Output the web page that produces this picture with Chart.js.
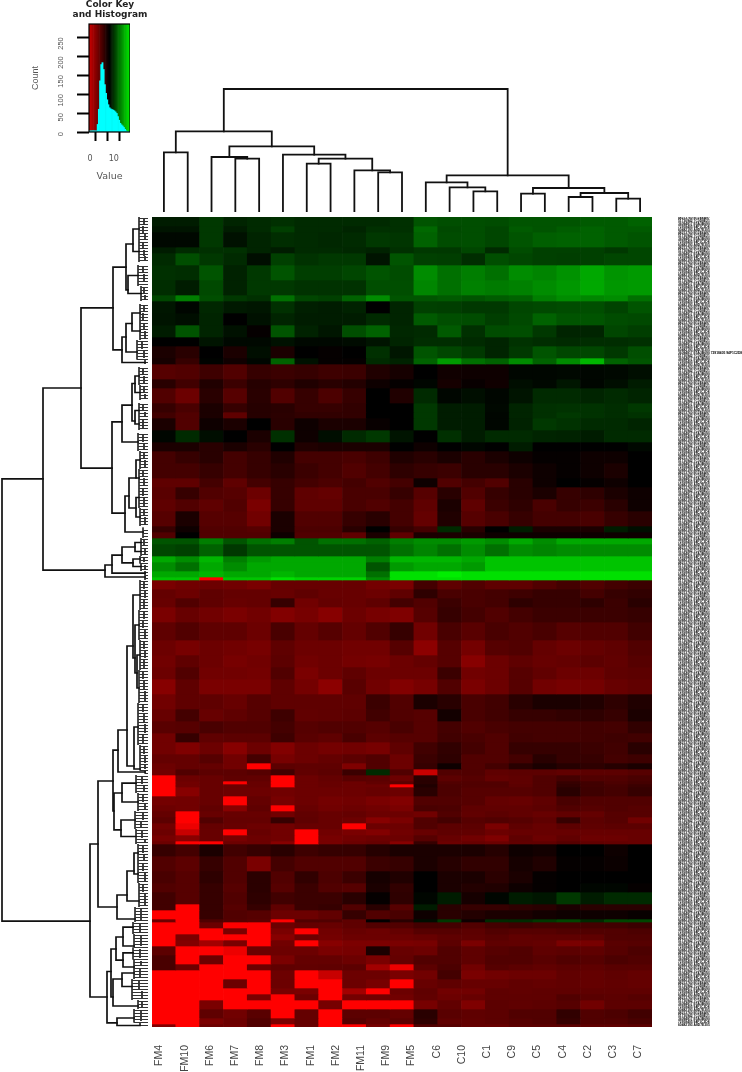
<!DOCTYPE html>
<html>
<head>
<meta charset="utf-8">
<title>Heatmap</title>
<script src="https://cdn.jsdelivr.net/npm/chart.js@4/dist/chart.umd.min.js"></script>
<style>
html, body { margin: 0; padding: 0; background: #fff; overflow: hidden; }
canvas { position: absolute; }
#heat { filter: blur(0.7px); }
#topTree, #leftTree { filter: blur(0.3px); }
#key, #keyTitle { filter: blur(0.3px); }
#colLabels { filter: blur(0.25px); }
#rowLabels { filter: blur(0.2px); }
</style>
</head>
<body>
<canvas id="keyTitle" width="100" height="24" style="left:60px;top:0"></canvas>
<canvas id="key" width="110" height="190" style="left:20px;top:0"></canvas>
<canvas id="topTree" width="500" height="132" style="left:152px;top:80px"></canvas>
<canvas id="leftTree" width="148" height="810" style="left:0;top:217px"></canvas>
<canvas id="heat" width="500" height="810" style="left:152px;top:217px"></canvas>
<canvas id="rowLabels" width="90" height="810" style="left:652px;top:217px"></canvas>
<canvas id="colLabels" width="504" height="52" style="left:147px;top:1020px"></canvas>
<script>
const columnLabels = ["FM4","FM10","FM6","FM7","FM8","FM3","FM1","FM2","FM11","FM9","FM5","C6","C10","C1","C9","C5","C4","C2","C3","C7"];
const heatColumns = ["1","2","3","4","5","6","7","8","9","10","11","12","13","14","15","16","17","18","19","20","21"];

// colour key histogram, bins are 0.5 wide
const keyBins = [-0.25,0.25,0.75,1.25,1.75,2.25,2.75,3.25,3.75,4.25,4.75,5.25,5.75,6.25,6.75,7.25,7.75,8.25,8.75,9.25,9.75,10.25,10.75,11.25,11.75,12.25,12.75,13.25,13.75,14.25,14.75,15.25,15.75,16.25,16.75];
const keyCounts = [3,3,3,3,3,3,3,20,60,135,178,183,165,125,102,85,72,64,61,59,58,56,53,49,41,31,23,19,16,12,7,3,1,0,0];

// how many gene rows each band of the heatmap covers
const rowCounts = [3,2,5,2,4,5,5,2,4,4,4,3,4,2,5,3,5,3,2,4,4,3,4,5,3,4,4,5,2,2,2,4,2,3,2,1,3,3,3,5,6,5,4,4,5,5,4,4,3,4,3,2,2,2,1,1,3,3,2,2,2,2,2,2,1,4,5,4,3,4,2,3,1,2,2,2,2,3,3,2,3,3,2,2,3,3,2,1];

const heatRows = [
[9,9,10,9.3,9.5,9.7,9.5,9.5,9.5,9.5,9.7,11,10.8,10.8,10.7,11,11,11,11.2,11.2,11.5],
[8.7,8.7,10,9,9.5,10.2,9.5,9.5,9.3,9.7,9.7,11.7,10.6,10.8,10.5,11.2,11,11.3,11.5,11.2,11.2],
[8.3,8.3,10,8.6,9.3,9.6,9.5,9.4,9.5,10,9.9,11.5,10.7,10.8,10.5,11,11.4,11.5,11.5,11.2,11],
[9,9.5,9.7,9.7,9.3,9,9.5,9.5,9.4,9.2,9.7,10,10,10.5,9.5,10.7,10.3,10.3,10.3,10,10.5],
[9.5,10.8,10,9.5,8.5,10.3,9.8,10,10,8.7,11,10.3,10.2,9.6,10.8,10.5,10.3,10.2,10.3,10.5,10.5],
[9.7,9.6,11,9.2,10,11,10.2,10.2,10.5,11,10.7,13,12,12.5,12,13,12.7,13.2,14,13.3,13.5],
[9.6,9,10.6,9.2,10,10,9.8,9.8,9.8,10.8,10.8,12.8,12,12.6,12.4,12.6,13,13.4,14,13.4,13.5],
[10.5,12.5,10.8,10,9.7,12,10.5,10.3,11.5,13,11,11,11.2,11,11.3,11.5,12.5,13,12.8,13,12],
[8.8,8.2,9.4,8.9,8.8,9.7,9.1,9,9.2,8,9.3,10.3,10.2,10,10,10.5,10.6,10.7,10.8,10.4,11],
[8.7,8.5,9.3,8,8.6,9.3,9,9,9,9.5,9.3,11.2,10.8,10.7,10.2,10.6,11.5,11,11,10.7,10.6],
[9,11,9.3,8.6,7.8,11,9.2,8.8,10.8,11.5,9.4,9.5,11.2,9.7,10.7,10.8,10,9.3,9.3,10.5,10.2],
[8,8,8.7,8.3,8.3,8.6,8.3,8.3,8.4,8.7,9.3,9.6,9.6,9.5,9.3,9.8,9.6,9.5,9.6,9.6,9.7],
[7,6.5,8,7,8.5,7,8,7.8,8,9.7,8.8,11,10.5,10,9.3,10,11,10.5,10.5,10,10.8],
[7.2,6,8.1,7.4,8.2,11.5,8.6,7.8,7.8,9.5,9.2,11.5,13.5,12,11.5,13,11.5,13,14.5,11.5,11],
[4.8,5,5.7,5,6,5.8,6,5.7,5.8,6.8,7.2,8,7.4,7.5,7.5,8.2,8.2,8.3,8.2,8.3,8.5],
[6.5,5.6,6.8,5.8,6.6,6.3,6.8,6.5,6.7,7.5,7.8,8.2,7.2,7.7,7.4,8.5,8.3,8.8,8.2,8.5,9],
[5,4,6.5,4.8,6.5,5,6,5.2,6,8,6.8,9.5,8.2,8.5,8.2,8.7,9.5,9.5,9.3,9.5,9.3],
[6,5.3,7,6,6.6,6.5,6,6,6.2,8,8,10,9,9,8.3,9.3,9.7,9.8,9.8,9.6,10],
[5.6,5,7,4.5,6.6,6.4,6.2,6.2,6.2,8,8,10,9,9,8.2,9.3,9.7,10,9.8,9.6,9.8],
[7,5,7.5,7,8,6.5,7.5,7,7,7.7,8,10,9,9,8.2,9.2,10,9.8,9.5,9.5,9.3],
[8.2,9.5,8.5,8,7,9.7,7.5,8.5,9.5,10,8.7,8,9.7,9,9.5,9.5,9.3,9.2,9,9.5,9.5],
[7,7,6.5,7,6.5,8,6.8,7,7,7,8,7.5,8,8.2,8,9,8,8,8,8,8.3],
[5.5,6,6.5,5.5,6,6.8,5.5,5.5,5.3,5.7,6.8,6.5,7,6.5,7,7.5,7.8,7.8,7.5,7.5,8],
[5.5,5.5,6,5.5,6,6.5,5.8,5.5,5,5.5,6.3,6,5.8,6.5,6.5,7,7.5,7.8,7.5,7,8],
[4.5,4.5,5.5,4.5,5.5,6,5.5,5.2,5.5,5,5.5,7.5,5,5.5,5,6.5,7.5,8,7.8,7.5,8],
[4.7,6,5,4.8,4,6,4.5,4.3,5.3,5.3,6,4.8,6.5,5,6,6.5,7,6,6.3,7,7.5],
[4.5,5,4.5,5,3.5,6,4.5,4.5,5.3,5,5.5,4.5,7,4.5,5.8,6.3,5.3,6,5.8,6.5,7.5],
[4.8,7,4.8,4.8,3.8,7,5,5,6,6.5,5.5,4.3,6.8,4.8,5.3,6,5.5,5.5,5.3,6,6.5],
[6,7.5,5,5,4.8,7,5.2,5.2,6.5,8,6,5.5,9.5,6.5,8,9,7,7,7,9,8.5],
[5,8,5,5,5,7.5,5,5,4.5,7,4.5,7,7,7,7.5,7.5,7.5,7.5,7.5,7.5,7.5],
[11,11,12.5,11,12,12.5,11,12,12,11.5,12.5,13,13,13.5,13,14,13,14,14,14,14],
[10.5,10.3,11.5,10,11,11,11,11,11,11,12,12.7,12,13,12,13,12.7,13,13,13,13],
[14,13,14.5,12.5,13.5,14,14,14,14,12.5,14.5,14.5,14.5,14,15,15,15,15,15,15,15],
[13,12,14,13,14,14,14,14,14,11,13.5,14,14,13.5,15,15,15,15,15,15,15],
[14,14,14.5,14,14,14.5,14,14,14,12,16,16,16.5,16,16,16,16,16,16,16,16],
[15,15,0,15,15,16,15.5,15.5,15.5,13,16,16,16,16,16,16,16,16,16,16,16],
[3.5,3.8,4,3.8,3.5,4.2,4.2,4.2,4.2,3.7,3.5,5.5,4.5,5,4.5,4.5,5,5.5,5,5.5,5.8],
[4.3,4,4.5,4.3,4.3,4.2,4.5,4.2,4.2,4,4.5,6.3,5.3,5.3,5.5,5.7,6,6,5.5,6,6.2],
[4.2,5,4.5,4.2,4.3,6,3.8,4.3,4.2,4.5,5.5,5,5.8,5.3,5.5,6.3,6,6,6.3,5.8,6.5],
[3.5,4.2,3.8,3.5,3.8,3.2,3.6,3,4,3.6,3.3,4.8,6,5.5,5,5.5,5.8,5.8,5.8,5.8,6],
[4.5,5,4.5,4.5,4,5.3,4.3,4.8,4.3,5,6,3.8,5.3,4.7,5.3,5,5.3,4.8,5,5,5.6],
[4,3.6,4,3.8,3.6,4.5,4,4,3.8,3.8,4.8,2.8,4.8,3.7,4.8,5,4.3,4,4.3,4.5,5],
[3.8,4.5,4,3.6,3.8,4.6,3.8,4,3.7,3.6,4,4.3,4.8,3,4,4.5,4.2,4.3,4.6,4.4,4.8],
[4,5,3.8,3.8,3.7,5,3.5,4,4.5,4,4,4,5.8,3.8,4,4.8,4.4,4,4,4.5,4.6],
[3,4.5,3.5,3.5,3.5,4.5,3.7,2.8,4.7,3.8,3.2,3.6,5,3.5,4,4.8,3.8,3.6,3.7,4.2,4.4],
[3.8,4.5,4.5,4.2,4.8,4.5,4.5,4.5,4.5,5.8,5,7,6.5,5.3,5.6,6.5,7,7,6.8,6.3,6.8],
[4.2,5.5,4.2,4.5,4.8,5.7,4.4,4.5,4.6,5.6,5,4.8,7.3,5.3,5.6,6,6,6.2,6.3,6,7],
[4.7,4.8,5.3,5,5,5.5,4.8,5,5,4.8,5.3,4.8,5.5,5,5.3,5.5,5.5,5.5,5.6,5.5,6.2],
[3.8,6,4.5,4.6,4.6,5.7,4.7,4.5,5.3,4.6,4.8,4.8,5.6,5.3,5,5.6,5.5,5.5,5.6,5.7,5.6],
[3.8,3.3,4,3,4,3.2,4,3.7,3.8,3.6,4.5,5.6,6.2,5.5,5,6,6,6,5.8,5.6,6.5],
[4.3,4.3,4.8,3.8,5.5,3.6,4,4.3,4.6,5,4,5.8,6.3,5,5,5.5,6.5,6,6,5.5,5.7],
[4,4.3,4.3,3.8,0,4.6,4.5,4.5,3.3,5,4,6,7.5,5,5.5,6.5,7,6.6,6.3,6.6,7],
[3.8,5,4.6,4.6,4.8,5.6,4.4,4.6,5.8,9.5,5,1.5,5,5,4.5,4.6,4.6,4.4,4.6,4.6,4.8],
[0,4,4.2,4.5,4.4,0,4,4.3,4.7,4.6,4,6.5,4.6,4.8,4.3,4.5,5,5.5,5,5,5.3],
[0,3.8,4.2,0,4.2,0,4,4.2,4,4.4,4.6,6.5,5,5,5,4.5,5,6,5.6,5.2,5.5],
[0,3.8,4.2,4,4.2,0,4,4.2,4,4,0.5,6.8,5.2,5,5,4.6,5,6.2,5.6,5.4,5.8],
[0,3,4.2,4,4,3.8,4,4,4,4.2,4,6.5,5.2,4.8,4.8,4.8,5,6.5,5.7,5.5,6],
[3.7,3.8,4.2,0,4.3,3.6,4,3.7,3.8,3.5,3.2,5,5,4.8,4.3,4.2,4.5,5.3,5,5,5],
[4,3.8,4.4,3,4.5,0,4.2,3.8,4,3.8,3.5,5.3,5.2,4.5,4.4,4.4,4.6,5,4.8,5,4.8],
[4.3,0,4.2,4.2,4.2,3.8,4.4,4.2,4.3,4,4,3.8,5,4.4,4.6,4.4,4.2,4.4,4.3,4.8,4.8],
[4.6,0,5,4.3,4.3,6,4.5,4.2,4,3,3.5,5,5.5,4.8,5,4.8,4.5,6,4.6,4.8,3.8],
[3.8,1,4.3,4.2,4,3.8,4.2,4.2,0,4,4,5,4.6,4.6,3.5,4.5,4.2,4.6,4.5,4.6,4.6],
[4,1.5,4.2,0,4.2,3.8,0,3.8,3.5,3.2,3.8,4.2,4.5,4.4,4,4.2,4.2,4.2,4.2,4.2,4.2],
[3.6,3,4.2,3.6,4,3.8,0,3.6,3.8,4,4,4.8,4.2,3.8,3.3,4.5,4,4.4,4,4,4.2],
[4,0,0.5,4,4,3,0,3.6,4,4.2,3,6,4,4.2,4,4.4,4.4,4.8,4.4,4.3,4.2],
[6,5.5,7,5.6,6,6.5,5.7,6,6,6.6,7,7,7,7,6.6,7.5,7.3,8,8,7.5,8],
[5,4.6,6,5,3.5,5.5,5,5,5,5.8,6,7,6.6,6.2,6.2,7.2,6.8,7.8,7.8,7.6,8],
[5.3,4.8,6.3,5,6.4,5,6.2,5.2,5.8,7.2,6.8,8,7,7,6.4,7,7.8,8,8,8,8],
[5,4.8,6,4.8,6.4,4.8,5.8,5,4.8,7,6.2,8,7,6.7,6.8,7.5,7.8,8,8.2,8.2,7.8],
[5.6,4.8,6,5,6.3,5.6,5.8,5.8,6.5,7.8,6.3,8.2,9,7.2,8.2,9,8.8,10,9,9.5,9.5],
[5.6,0,6,4.8,6,4.5,5.8,6,5,6.5,4.8,9,6.5,6,6,6.3,6.5,7,6.5,6.5,6.5],
[0,0,6,5,4.8,4,4,4.4,6,5,5.3,7.5,6.5,6.7,7,7,7.3,7.5,7.5,7.5,7.7],
[4,0,5,4.8,4.6,0,5,5,4.5,8,6.5,8.5,10,7.5,9.5,9.5,10,10.5,9.5,10.5,10.5],
[0,0,4,0,0,4,4.3,4.2,4.5,5,5,5.5,5.5,5,5.5,5.7,5.5,5.5,5.5,5.6,5.8],
[0,0,0,3.5,0,3.5,0,3.8,4.2,4,4.3,4.8,4.8,4.6,5,4.8,4.8,5,5,5,5.2],
[0,3.5,0,0,0,3,4,3.7,4,4,4,4.2,4.5,4.5,4.7,4.4,4.5,4.5,4.5,5,5],
[0,3.2,2,3.5,0,3.8,0,3,3.4,3.4,3.5,3.6,4.6,3.5,4.5,4.4,4.3,3.5,3.6,4.7,4.8],
[4.6,0,0,1,4,4,4,3.5,3.6,7,4.2,4,5,4.5,4.8,5,4.5,4.6,4.5,4.8,5.2],
[5.3,0,4,0,0,3.5,4.3,4.3,4,3.5,4.3,5,5,4.5,5,5,4.7,5,4.8,5.2,5],
[5.3,4,0,0,4,4.5,4.4,4.5,4.6,2,1,4.6,5.2,3.8,4.8,4.6,4.4,4.6,4.5,4.7,4.7],
[0,0,0,0,0,4,0,1.5,4,4,3.5,3.8,5.5,3.5,3.8,4,4,4.4,4.3,4.5,4.3],
[0,0,0,4,0,4,0,0,4,3.6,0.5,4.2,4.5,4.2,4.2,4.4,4.3,4.4,4.3,4.4,4.3],
[0,0,0,0,0,3.6,3.5,0,2,0.5,4,4.5,3.8,3.8,4.5,4.4,4.5,4.5,4.5,4.5,4.5],
[0,0,0,0,3.5,0,4,0,3.7,3.8,3.8,4.4,4,4.2,4.5,4.5,4.5,5,4.7,4.6,4.8],
[0,0,3.5,0,0,0,0,3.6,0,0,0,3.6,4.4,3.3,4.6,4.5,4.6,4.8,3.8,4.6,4.6],
[0,0,4.5,3.8,4.7,0,4.3,0,4.6,4.6,4.3,6.5,4.7,4.5,4.6,5,5,6.2,5,5.2,5.6],
[0,0,3.5,4,5,3.5,4.3,0,4.8,4.3,4.6,6.3,4.5,4.4,4.6,4.8,5,6,5,5,5.3],
[3.2,0,4,3.8,5,0,4.2,0,0.5,3.6,0,5,4.8,4.3,4.2,4.6,4.6,4.6,4.5,4.5,4.6]
];

// top dendrogram, merge table as hclust gives it: negative = leaf column, positive = earlier merge
const colMerge = [[-20,-21],[-18,-19],[-16,-17],[2,1],[-14,-15],[3,4],[-13,5],[-12,7],[8,6],[-10,-11],[-9,10],[-7,-8],[12,11],[-4,-5],[-3,14],[-6,13],[15,16],[-1,-2],[18,17],[19,9]];
const colHeight = [13.3,15,18.3,19,20.7,24,24.7,29.7,36.7,39.7,41.7,48.3,53.3,53.3,55,57.3,65.7,59.7,80.7,123];

// left dendrogram: [row a, row b, height, height of a, height of b]
const rowBranches = [
[87.3,234.7,146,105,58],[57,117.7,105,67,43],[30.3,83.7,67,35,36],[16.7,44.3,35,22,26],
[9,24.3,22,15,20],[4,11.5,15,9,9],[19.5,25.5,20,10,7],[40,48.5,26,22,3],[35.5,45,22,16,11],[32,38,16,8,8],
[68.3,98.7,36,26,23],[62.7,75,26,16,10],[55.5,68,16,13,13],[53,58.5,13,9,8],[64.5,69,13,9,9],
[93,105,23,19,5],[87,97,19,12,12],[81,87,12,8,9],[93.5,100,12,9,8],
[116,120,43,36,3],[112.7,118.7,36,26,3],[110,115.3,26,13,15],[108.5,111.5,13,7,7],[114,116.5,15,8,7],
[209,260,58,50,41],[188,230,50,35,31],[177.7,198,35,30,34],[171,185,30,21,3],[143,183,21,15,14],
[126,147,15,8,13],[136,152,13,9,11],[146,157,11,8,9],[170,184,14,10,8],
[192,204.3,34,26,27],[188.7,195,26,12,10],[201,206.5,27,13,12],
[226,234,31,21,13],[218,228,21,14,9],[212,219,14,10,10],
[251.5,268.6,41,37,31],[244,260,37,32,35],[240,247.7,32,25,25],[236.7,243,25,15,14],[245.3,250,25,15,14],
[254,263,35,26,10],[252,256.5,26,14,16],[267,269.5,31,14,8]
];
// tight clusters at the leaf end: [first row, last row, height]
const rowCombs = [
[0,8,9],[8,15,9],[16,23,10],[23,28,7],[29,35,8],[35,41,8],[41,47.5,11],[47.5,49,3],
[50,56,9],[56,61,8],[62,67,9],[67,71,9],[72,78,10],[78,84,8],[84,90,9],[90,97,9],[97,103,8],[103.5,107,5],
[107,110,7],[110,113,7],[113,115.5,8],[115.5,118,7],[118,119.5,3],[119.5,121,3],
[121,131,8],[131,141,9],[141,151,8],[151,162,9],[162,176,10],[176,184.5,8],[184.5,185.5,3],
[186,192,12],[192,198,10],[198,204,13],[204,209,12],[209,215,10],[215,222,10],[222,230,9],[230,235,13],
[235,239,15],[239,243.5,14],[243.5,247.5,15],[247.5,250,14],[250,254,14],[254,261,16],[261,264,10],[264,268.5,14],[268.5,269.5,8]
];
// smallest joins inside those clusters: [first row, last row, height]
const rowTwigs = [
[0.5,2.5,4],[3,5.5,5],[5.5,7.5,3],[8.5,10.5,5],[11,13,4],[13,14.5,3],[16.5,18.5,5],[19,21.5,4],[23.5,25.5,4],[26,27.5,3],
[29.5,31.5,4],[32,34.5,5],[35.5,37.5,4],[38,40.5,3],[41.5,44,6],[44.5,47,4],[50.5,52.5,5],[53,55.5,4],[56.5,58.5,4],[59,60.5,3],
[62.5,64.5,5],[65,66.5,3],[67.5,70.5,5],[72.5,75,5],[75.5,77.5,4],[78.5,80.5,4],[81,83.5,3],[84.5,86.5,5],[87,89.5,4],[90.5,93,5],
[93.5,96.5,4],[97.5,99.5,4],[100,102.5,3],[107.5,109.5,4],[110.5,112.5,3],[113.5,115,4],[116,117.5,3],
[121.5,124,4],[124.5,127,3],[127.5,130.5,4],[131.5,134,4],[134.5,137,5],[137.5,140.5,3],[141.5,144,4],[144.5,147,3],[147.5,150.5,4],
[151.5,154,5],[154.5,157.5,4],[158,161.5,3],[162.5,165,5],[165.5,168.5,4],[169,172,3],[172.5,175.5,5],[176.5,179,4],[179.5,182,3],[182.5,184,3],
[186.5,189,6],[189.5,191.5,4],[192.5,195,5],[195.5,197.5,3],[198.5,201,5],[201.5,203.5,7],[204.5,207,6],[207.5,208.5,3],[209.5,212,5],[212.5,214.5,4],
[215.5,218,5],[218.5,221.5,3],[222.5,225,5],[225.5,229.5,3],[230.5,234.5,7],[235.5,238.5,8],[239.5,243,7],[244,247,8],[248,249.5,7],[250.5,253.5,8],
[254.5,257.5,9],[258,260.5,6],[261.5,263.5,6],[264.5,268,7]
];

// the row labels are too small to read in the picture, these only stand in for them
const rowLabelStock = ["48213760 B12E4A97","51730942 7C0D8E21","36094817 E5A3B690","72918405 94F1C2D8","60482193 A8D7E305"];
const longRowLabel = "36094817 E5A3B690 72918405 94F1C2D8 60482193";
const rowLabels = [];
for (let i = 0; i < 270; i++) {
    rowLabels.push(i === 45 ? longRowLabel : rowLabelStock[i % rowLabelStock.length]);
}

Chart.defaults.animation = false;
Chart.defaults.responsive = false;
Chart.defaults.plugins.legend.display = false;
Chart.defaults.plugins.tooltip.enabled = false;
Chart.defaults.font.family = "'Liberation Sans', Arial, sans-serif";

function heatColor(v) {
    const boost = v < 2 ? (2 - v) * 48 : 0;
    const red = Math.max(0, Math.min(255, (8 - v) * 27 + boost));
    const green = Math.max(0, Math.min(255, (v - 8) * 28));
    return "rgb(" + red + "," + green + ",0)";
}

function keyColor(v) {
    const red = Math.max(0, Math.min(255, (8.2 - v) * 24));
    const green = Math.max(0, Math.min(255, (v - 8.2) * 27));
    return "rgb(" + red + "," + green + ",0)";
}

// title of the colour key sits centred over more than the key itself
new Chart(document.getElementById("keyTitle"), {
    type: "bar",
    data: { datasets: [] },
    options: {
        layout: { padding: 0 },
        plugins: {
            title: {
                display: true,
                text: ["Color Key", "and Histogram"],
                color: "#222",
                font: { family: "'DejaVu Sans'", size: 9, weight: "bold", lineHeight: 1.05 },
                padding: { top: 0, bottom: 0 }
            }
        },
        scales: { x: { display: false }, y: { display: false } }
    }
});

// colour key and histogram
const keyTop = 285;
const keyFrame = {
    id: "keyFrame",
    afterDraw(chart) {
        const a = chart.chartArea;
        chart.ctx.strokeStyle = "#000";
        chart.ctx.lineWidth = 1.2;
        chart.ctx.strokeRect(a.left, a.top, a.width, a.height);
    }
};

new Chart(document.getElementById("key"), {
    type: "bar",
    plugins: [keyFrame],
    data: {
        datasets: [{
            data: keyBins.map((b, i) => ({ x: b, y: keyCounts[i] })),
            backgroundColor: "#00ffff",
            grouped: false,
            barPercentage: 1,
            categoryPercentage: 1
        }, {
            data: keyBins.map(b => ({ x: b, y: keyTop })),
            backgroundColor: keyBins.map(keyColor),
            grouped: false,
            barPercentage: 1,
            categoryPercentage: 1
        }]
    },
    options: {
        layout: { padding: { top: 24 } },
        scales: {
            x: {
                type: "linear",
                offset: false,
                min: -0.4,
                max: 16.8,
                afterFit: s => { s.height = 58; s.paddingLeft = 0; s.paddingRight = 0; },
                grid: { drawOnChartArea: false, tickLength: 9, tickWidth: 2, tickColor: "#000" },
                border: { display: false },
                ticks: {
                    stepSize: 5,
                    includeBounds: false,
                    maxRotation: 0,
                    padding: 13,
                    color: "#555",
                    font: { family: "'DejaVu Sans'", size: 8 },
                    callback: v => (v === 0 || v === 10) ? String(v) : ""
                },
                title: { display: true, text: "Value", color: "#555", font: { family: "'DejaVu Sans'", size: 9.5 }, padding: { top: 4, bottom: 8 } }
            },
            y: {
                min: 0,
                max: keyTop,
                afterFit: s => { s.width = 69; s.paddingTop = 0; s.paddingBottom = 0; },
                grid: { drawOnChartArea: false, tickLength: 12, tickWidth: 2, tickColor: "#000" },
                border: { display: false },
                ticks: {
                    stepSize: 50,
                    includeBounds: false,
                    minRotation: 90,
                    maxRotation: 90,
                    padding: 16,
                    color: "#555",
                    font: { size: 7.5 }
                },
                title: { display: true, text: "Count", color: "#555", font: { size: 9 }, padding: { top: 10, bottom: 0 } }
            }
        }
    }
});

// top dendrogram
const colPos = [];
const colDepth = [];
function colNode(id) {
    return id < 0 ? [-id - 0.5, 0] : [colPos[id - 1], colDepth[id - 1]];
}
const colSegments = colMerge.map((m, i) => {
    const a = colNode(m[0]);
    const b = colNode(m[1]);
    colPos.push((a[0] + b[0]) / 2);
    colDepth.push(colHeight[i]);
    return {
        data: [{ x: a[0], y: a[1] }, { x: a[0], y: colHeight[i] }, { x: b[0], y: colHeight[i] }, { x: b[0], y: b[1] }],
        showLine: true,
        borderColor: "#111",
        borderWidth: 1.8,
        borderJoinStyle: "miter",
        borderCapStyle: "square",
        pointRadius: 0
    };
});

new Chart(document.getElementById("topTree"), {
    type: "scatter",
    data: { datasets: colSegments },
    options: {
        layout: { padding: 0 },
        scales: {
            x: { display: false, min: 0, max: 21 },
            y: { display: false, min: 0, max: 132 }
        }
    }
});

// left dendrogram
const branchLines = rowBranches.map(b => ({
    data: [{ x: b[3], y: b[0] }, { x: b[2], y: b[0] }, { x: b[2], y: b[1] }, { x: b[4], y: b[1] }],
    showLine: true,
    borderColor: "#111",
    borderWidth: 1.7,
    borderJoinStyle: "miter",
    borderCapStyle: "square",
    pointRadius: 0
}));
const combLines = rowCombs.map(c => {
    const pts = [{ x: c[2], y: c[0] }, { x: c[2], y: c[1] }, { x: null, y: null }];
    for (let r = Math.ceil(c[0]); r < c[1]; r++) {
        pts.push({ x: c[2], y: r + 0.5 }, { x: 0, y: r + 0.5 }, { x: null, y: null });
    }
    return { data: pts, showLine: true, borderColor: "#333", borderWidth: 1, pointRadius: 0 };
});
const twigLines = rowTwigs.map(t => ({
    data: [{ x: t[2], y: t[0] }, { x: t[2], y: t[1] }],
    showLine: true,
    borderColor: "#111",
    borderWidth: 1.6,
    pointRadius: 0
}));

new Chart(document.getElementById("leftTree"), {
    type: "scatter",
    data: { datasets: branchLines.concat(combLines, twigLines) },
    options: {
        layout: { padding: 0 },
        scales: {
            x: { display: false, min: 0, max: 148, reverse: true },
            y: { display: false, min: 0, max: 270, reverse: true }
        }
    }
});

// heatmap, one floating bar per cell
let rowStart = 0;
const heatBands = heatRows.map((values, i) => {
    const from = rowStart;
    rowStart += rowCounts[i];
    return {
        data: values.map((v, c) => ({ x: heatColumns[c], y: [from, rowStart] })),
        backgroundColor: values.map(heatColor),
        borderWidth: 0,
        grouped: false,
        barPercentage: 1,
        categoryPercentage: 1
    };
});

new Chart(document.getElementById("heat"), {
    type: "bar",
    data: { labels: heatColumns, datasets: heatBands },
    options: {
        layout: { padding: 0 },
        scales: {
            x: { display: false },
            y: { display: false, min: 0, max: 270, reverse: true }
        }
    }
});

// row labels down the right side
new Chart(document.getElementById("rowLabels"), {
    type: "bar",
    data: { datasets: [] },
    options: {
        layout: { padding: 0 },
        scales: {
            x: { display: false },
            y: {
                type: "category",
                labels: rowLabels,
                offset: true,
                position: "right",
                afterFit: s => { s.width = 64; s.paddingTop = 0; s.paddingBottom = 0; },
                grid: { display: false, drawTicks: false },
                border: { display: false },
                ticks: { autoSkip: false, padding: 0, color: "#000", font: { size: 3.3, weight: "bold" } }
            }
        }
    }
});

// column labels, the picture has 20 of them spread over the 21 columns
new Chart(document.getElementById("colLabels"), {
    type: "bar",
    data: { labels: columnLabels, datasets: [] },
    options: {
        layout: { padding: 0 },
        scales: {
            x: {
                afterFit: s => { s.height = 27; },
                grid: { display: false, drawTicks: false },
                border: { display: false },
                ticks: { autoSkip: false, minRotation: 90, maxRotation: 90, padding: 0, color: "#444", font: { size: 10.5 } }
            },
            y: { display: false }
        }
    }
});
</script>
</body>
</html>
